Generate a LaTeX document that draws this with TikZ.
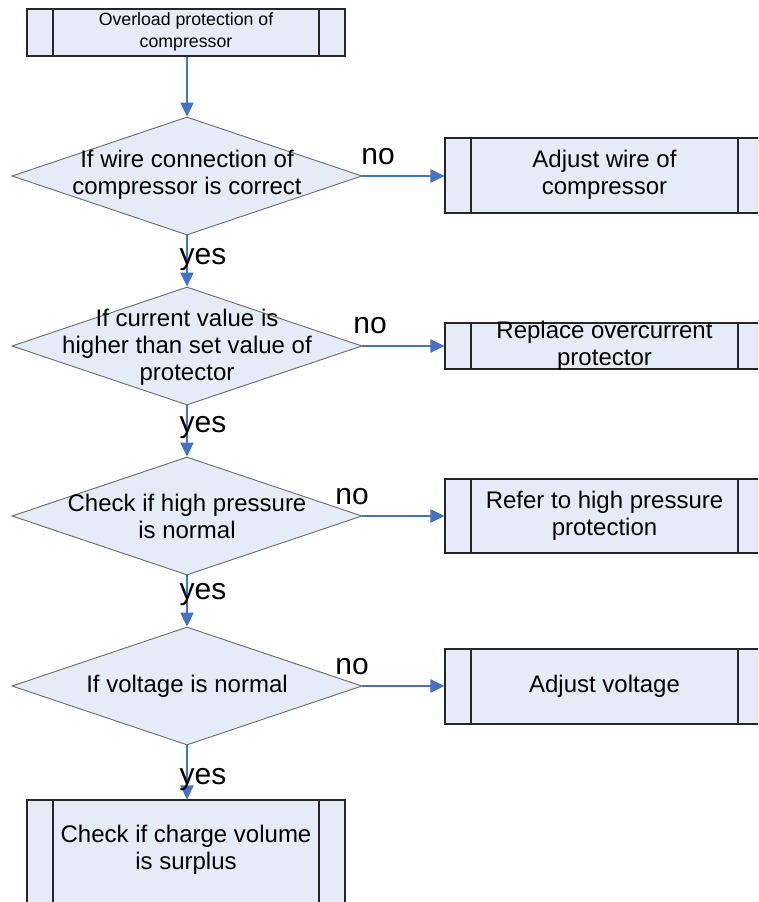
\documentclass[tikz,border=0pt]{standalone}
\usepackage{fontspec}
\setmainfont{Liberation Sans}
\usetikzlibrary{arrows.meta,shapes.geometric}
\definecolor{boxfill}{RGB}{230,236,247}
\definecolor{arrowblue}{RGB}{70,114,196}
\definecolor{diaedge}{RGB}{110,110,110}
\tikzset{
  procbox/.style={draw=black!85, line width=0.8pt, fill=boxfill, rectangle, inner sep=0pt,
    path picture={
      \draw[black!85, line width=0.8pt] ([xshift=19.5pt]path picture bounding box.north west) -- ([xshift=19.5pt]path picture bounding box.south west);
      \draw[black!85, line width=0.8pt] ([xshift=-19.5pt]path picture bounding box.north east) -- ([xshift=-19.5pt]path picture bounding box.south east);
    }},
  decision/.style={draw=diaedge, line width=0.7pt, fill=boxfill, diamond, inner sep=0pt,
    minimum width=262.5pt, minimum height=88.5pt},
  bodytext/.style={align=center, font=\fontsize{18pt}{20.25pt}\selectfont, inner sep=0pt},
  smalltext/.style={align=center, font=\fontsize{13.3pt}{16.5pt}\selectfont, inner sep=0pt},
  answer/.style={font=\fontsize{22.5pt}{24pt}\selectfont, inner sep=0pt},
  flow/.style={draw=arrowblue, line width=0.8pt, -{Triangle[length=10.5pt, width=10pt, fill=arrowblue]}}
}
\begin{document}
\begin{tikzpicture}[x=0.75pt, y=-0.75pt]
\clip (0,0) rectangle (758,902);
\fill[white] (0,0) rectangle (758,902);

% start box
\node[procbox, minimum width=238.5pt, minimum height=35.25pt] (start) at (186,32.5) {};
\node[smalltext] (starttext) at (186,31.5) {Overload protection of\\compressor};

% decisions
\node[decision] (d1) at (187,176) {};
\node[bodytext] (d1text) at (187,175) {If wire connection of\\compressor is correct};
\node[decision] (d2) at (187,346) {};
\node[bodytext] (d2text) at (187,347) {If current value is\\higher than set value of\\protector};
\node[decision] (d3) at (187,516) {};
\node[bodytext] (d3text) at (187,516) {Check if high pressure\\is normal};
\node[decision] (d4) at (187,686) {};
\node[bodytext] (d4text) at (187,686) {If voltage is normal};

% right boxes
\node[procbox, minimum width=239.25pt, minimum height=56.25pt] (r1) at (604.5,175.5) {};
\node[bodytext] (r1text) at (604.5,175) {Adjust wire of\\compressor};
\node[procbox, minimum width=239.25pt, minimum height=34.5pt] (r2) at (604.5,346) {};
\node[bodytext] (r2text) at (604.5,346) {Replace overcurrent\\protector};
\node[procbox, minimum width=239.25pt, minimum height=55.5pt] (r3) at (604.5,516) {};
\node[bodytext] (r3text) at (604.5,516) {Refer to high pressure\\protection};
\node[procbox, minimum width=239.25pt, minimum height=56.25pt] (r4) at (604.5,686.5) {};
\node[bodytext] (r4text) at (604.5,686) {Adjust voltage};

% end box
\node[procbox, minimum width=238.5pt, minimum height=82.5pt] (final) at (186,855) {};
\node[bodytext] (finaltext) at (186,850) {Check if charge volume\\is surplus};

% connectors
\draw[flow] (start.south -| d1.north) -- (d1.north);
\draw[flow] (d1.south) -- (d2.north);
\draw[flow] (d2.south) -- (d3.north);
\draw[flow] (d3.south) -- (d4.north);
\draw[flow] (d4.south) -- (d4.south |- final.north);
\draw[flow] (d1.east) -- (d1.east -| r1.west);
\draw[flow] (d2.east) -- (d2.east -| r2.west);
\draw[flow] (d3.east) -- (d3.east -| r3.west);
\draw[flow] (d4.east) -- (d4.east -| r4.west);

% labels
\node[answer] (no1) at (378,157) {no};
\node[answer] (no2) at (370,326) {no};
\node[answer] (no3) at (352,497) {no};
\node[answer] (no4) at (352,667) {no};
\node[answer] (yes1) at (203,260) {yes};
\node[answer] (yes2) at (203,428) {yes};
\node[answer] (yes3) at (203,595) {yes};
\node[answer] (yes4) at (203,780) {yes};
\end{tikzpicture}
\end{document}
